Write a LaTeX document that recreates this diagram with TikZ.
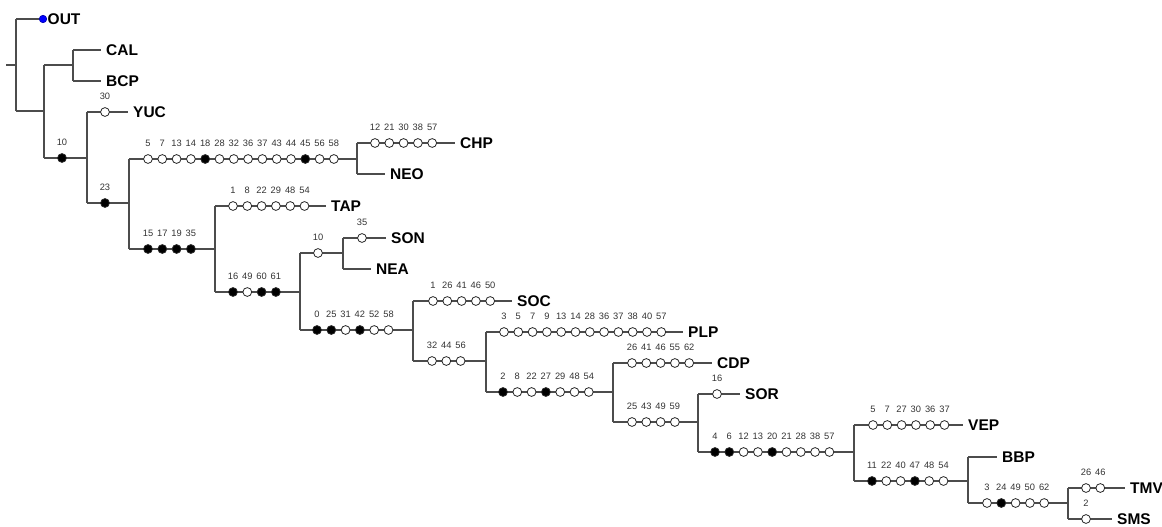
\documentclass[tikz,border=0pt]{standalone}
\usepackage{fontspec}
\setmainfont{Liberation Sans}
\tikzset{
  edge/.style={draw=black!70, line width=1.1pt},
  wc/.style={circle, draw=black!85, fill=white, line width=0.8pt, inner sep=0pt, minimum size=8.8pt},
  bc/.style={wc, fill=black},
  outdotstyle/.style={circle, draw=blue!70!black, fill=blue, line width=0.6pt, inner sep=0pt, minimum size=7.5pt},
  num/.style={font=\fontsize{9.3}{10}\selectfont, text=black!80, inner sep=0pt},
  taxon/.style={font=\fontsize{15.5}{16}\selectfont\bfseries, anchor=west, inner sep=0pt},
}
% #1 name, #2 x start, #3 x end, #4 y
\newcommand\mkedge[4]{%
  \coordinate (#1-a) at (#2,#4);
  \coordinate (#1-b) at (#3,#4);
  \draw[edge] (#1-a) -- (#1-b);}
% #1 prefix, #2 x0, #3 y, #4 list of label/style
\newcommand\mkchars[4]{%
  \foreach \lab/\st [count=\i] in {#4} {
    \node[\st] (#1-\i) at ({#2+(\i-1)*14.3},#3) {};
    \node[num] (#1-t\i) at ({#2+(\i-1)*14.3},#3-15.5) {\lab};
  }}
\begin{document}
\begin{tikzpicture}[x=1pt,y=-1pt]
\useasboundingbox (0,0) rectangle (1162,527);
% root
\mkedge{stub}{6}{16}{65}
\mkedge{out}{16}{43}{19}
\mkedge{a1}{16}{44}{111}
\draw[edge] (out-a) -- (a1-a);
% CAL/BCP
\mkedge{a2}{44}{73}{65}
\mkedge{cal}{73}{101}{50}
\mkedge{bcp}{73}{101}{81}
\draw[edge] (cal-a) -- (bcp-a);
\mkedge{a3}{44}{87}{158}
\draw[edge] (a2-a) -- (a3-a);
\mkedge{yuc}{87}{128}{112}
\mkedge{a4}{87}{129}{203}
\draw[edge] (yuc-a) -- (a4-a);
\mkedge{a5}{129}{357}{159}
\mkedge{chp}{357}{455}{143}
\mkedge{neo}{357}{385}{174}
\draw[edge] (chp-a) -- (neo-a);
\mkedge{a6}{129}{215}{249}
\draw[edge] (a5-a) -- (a6-a);
\mkedge{tap}{215}{326}{206}
\mkedge{a7}{215}{300}{292}
\draw[edge] (tap-a) -- (a7-a);
\mkedge{a8}{300}{343}{253}
\mkedge{son}{343}{386}{238}
\mkedge{nea}{343}{371}{269}
\draw[edge] (son-a) -- (nea-a);
\mkedge{a9}{300}{413}{330}
\draw[edge] (a8-a) -- (a9-a);
\mkedge{soc}{413}{512}{301}
\mkedge{a10}{413}{486}{361}
\draw[edge] (soc-a) -- (a10-a);
\mkedge{plp}{486}{683}{332}
\mkedge{a11}{486}{613}{392}
\draw[edge] (plp-a) -- (a11-a);
\mkedge{cdp}{613}{712}{363}
\mkedge{a12}{613}{698}{422}
\draw[edge] (cdp-a) -- (a12-a);
\mkedge{sor}{698}{740}{394}
\mkedge{a13}{698}{854}{452}
\draw[edge] (sor-a) -- (a13-a);
\mkedge{vep}{854}{963}{425}
\mkedge{a14}{854}{968}{481}
\draw[edge] (vep-a) -- (a14-a);
\mkedge{bbp}{968}{997}{457}
\mkedge{a15}{968}{1068}{503}
\draw[edge] (bbp-a) -- (a15-a);
\mkedge{tmv}{1068}{1125}{488}
\mkedge{sms}{1068}{1112}{519}
\draw[edge] (tmv-a) -- (sms-a);
% outgroup dot
\node[outdotstyle] (outdot) at (out-b) {};
% taxon labels
\node[taxon] (OUT) at (47.5,19) {OUT};
\node[taxon] (CAL) at ([xshift=5pt]cal-b) {CAL};
\node[taxon] (BCP) at ([xshift=5pt]bcp-b) {BCP};
\node[taxon] (YUC) at ([xshift=5pt]yuc-b) {YUC};
\node[taxon] (CHP) at ([xshift=5pt]chp-b) {CHP};
\node[taxon] (NEO) at ([xshift=5pt]neo-b) {NEO};
\node[taxon] (TAP) at ([xshift=5pt]tap-b) {TAP};
\node[taxon] (SON) at ([xshift=5pt]son-b) {SON};
\node[taxon] (NEA) at ([xshift=5pt]nea-b) {NEA};
\node[taxon] (SOC) at ([xshift=5pt]soc-b) {SOC};
\node[taxon] (PLP) at ([xshift=5pt]plp-b) {PLP};
\node[taxon] (CDP) at ([xshift=5pt]cdp-b) {CDP};
\node[taxon] (SOR) at ([xshift=5pt]sor-b) {SOR};
\node[taxon] (VEP) at ([xshift=5pt]vep-b) {VEP};
\node[taxon] (BBP) at ([xshift=5pt]bbp-b) {BBP};
\node[taxon] (TMV) at ([xshift=5pt]tmv-b) {TMV};
\node[taxon] (SMS) at ([xshift=5pt]sms-b) {SMS};
% character changes
\mkchars{c3}{62}{158}{10/bc}
\mkchars{cyuc}{105}{112}{30/wc}
\mkchars{c4}{105}{203}{23/bc}
\mkchars{c5}{148}{159}{5/wc,7/wc,13/wc,14/wc,18/bc,28/wc,32/wc,36/wc,37/wc,43/wc,44/wc,45/bc,56/wc,58/wc}
\mkchars{cchp}{375}{143}{12/wc,21/wc,30/wc,38/wc,57/wc}
\mkchars{c6}{148}{249}{15/bc,17/bc,19/bc,35/bc}
\mkchars{ctap}{233}{206}{1/wc,8/wc,22/wc,29/wc,48/wc,54/wc}
\mkchars{c7}{233}{292}{16/bc,49/wc,60/bc,61/bc}
\mkchars{c8}{318}{253}{10/wc}
\mkchars{cson}{362}{238}{35/wc}
\mkchars{c9}{317}{330}{0/bc,25/bc,31/wc,42/bc,52/wc,58/wc}
\mkchars{csoc}{433}{301}{1/wc,26/wc,41/wc,46/wc,50/wc}
\mkchars{c10}{432}{361}{32/wc,44/wc,56/wc}
\mkchars{cplp}{504}{332}{3/wc,5/wc,7/wc,9/wc,13/wc,14/wc,28/wc,36/wc,37/wc,38/wc,40/wc,57/wc}
\mkchars{c11}{503}{392}{2/bc,8/wc,22/wc,27/bc,29/wc,48/wc,54/wc}
\mkchars{ccdp}{632}{363}{26/wc,41/wc,46/wc,55/wc,62/wc}
\mkchars{c12}{632}{422}{25/wc,43/wc,49/wc,59/wc}
\mkchars{csor}{717}{394}{16/wc}
\mkchars{c13}{715}{452}{4/bc,6/bc,12/wc,13/wc,20/bc,21/wc,28/wc,38/wc,57/wc}
\mkchars{cvep}{873}{425}{5/wc,7/wc,27/wc,30/wc,36/wc,37/wc}
\mkchars{c14}{872}{481}{11/bc,22/wc,40/wc,47/bc,48/wc,54/wc}
\mkchars{c15}{987}{503}{3/wc,24/bc,49/wc,50/wc,62/wc}
\mkchars{ctmv}{1086}{488}{26/wc,46/wc}
\mkchars{csms}{1086}{519}{2/wc}
\end{tikzpicture}
\end{document}
